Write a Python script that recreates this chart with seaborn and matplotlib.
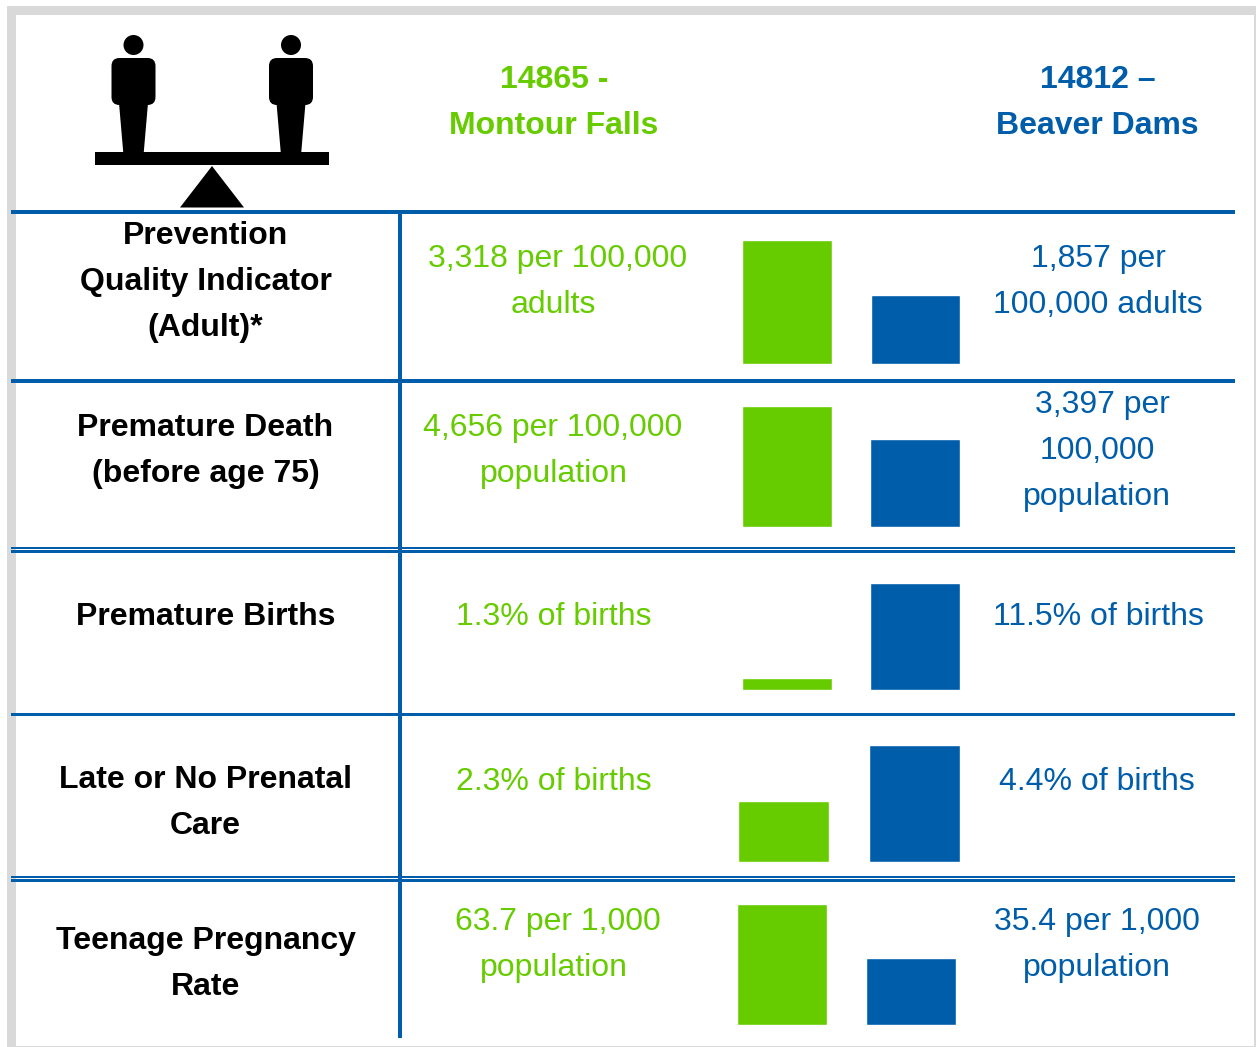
import pandas as pd
import matplotlib
matplotlib.use('Agg')  # Use a non-GUI backend
import matplotlib.pyplot as plt
from matplotlib.patches import Circle, FancyBboxPatch, Polygon, Rectangle
import seaborn as sns

GREEN = '#66CC00'
BLUE = '#005DAA'
GREY = '#D9D9D9'
W, H = 1256, 1047

areas = ['14865 - Montour Falls', '14812 - Beaver Dams']
prevention = [3318, 1857]
premature_death = [4656, 3397]
premature_births = [1.3, 11.5]
late_care = [2.3, 4.4]
teen_pregnancy = [63.7, 35.4]

row_labels = [['Prevention', 'Quality Indicator', '(Adult)*'],
              ['Premature Death', '(before age 75)'],
              ['Premature Births'],
              ['Late or No Prenatal', 'Care'],
              ['Teenage Pregnancy', 'Rate']]
green_labels = [['3,318 per 100,000', 'adults'],
                ['4,656 per 100,000', 'population'],
                ['1.3% of births'],
                ['2.3% of births'],
                ['63.7 per 1,000', 'population']]
blue_labels = [['1,857 per', '100,000 adults'],
               ['3,397 per', '100,000', 'population'],
               ['11.5% of births'],
               ['4.4% of births'],
               ['35.4 per 1,000', 'population']]

sns.set_style('white')
plt.rcParams['font.family'] = ['Liberation Sans', 'DejaVu Sans']

fig = plt.figure(figsize=(W / 100, H / 100), dpi=100)
bg = fig.add_axes([0, 0, 1, 1])
bg.set_xlim(0, W)
bg.set_ylim(H, 0)
bg.axis('off')

# grey frame round the table
bg.add_patch(Rectangle((7, 6), 9, H - 6, color=GREY, lw=0))
bg.add_patch(Rectangle((7, 6), W - 7, 9, color=GREY, lw=0))
bg.add_patch(Rectangle((1254, 6), 2, H - 6, color=GREY, lw=0))
bg.add_patch(Rectangle((7, 1045.5), W - 7, 1.5, color=GREY, lw=0))


def hline(y, thick):
    bg.add_patch(Rectangle((11, y), 1224, thick, color=BLUE, lw=0, zorder=3))


# table rules
hline(210, 3.8)
hline(379, 3.8)
hline(547, 2.3)
hline(550.4, 2.3)
hline(712.5, 3.8)
hline(876, 2.3)
hline(879.4, 2.3)
bg.add_patch(Rectangle((398, 212), 4, 826, color=BLUE, lw=0, zorder=3))


def person(cx):
    bg.add_patch(Circle((cx, 45), 10, color='black', lw=0))
    bg.add_patch(FancyBboxPatch((cx - 14, 66), 28, 31, boxstyle='round,pad=8',
                                color='black', lw=0))
    bg.add_patch(Polygon([(cx - 14.5, 103), (cx + 14.5, 103), (cx + 10.2, 153), (cx - 10.2, 153)],
                         color='black', lw=0))


# balance icon
person(133.5)
person(291)
bg.add_patch(Rectangle((95, 152), 233.5, 13, color='black', lw=0))
bg.add_patch(Polygon([(212, 166), (180, 207.5), (244, 207.5)], color='black', lw=0))


def put_lines(lines, xs, ys, color, weight='normal'):
    for line, x, y in zip(lines, xs, ys):
        bg.text(x, y + 11, line, color=color, fontsize=23, fontweight=weight,
                ha='center', va='baseline')


# column headings
put_lines(['14865 -', 'Montour Falls'], [554.5, 553.5], [77, 123], GREEN, 'bold')
put_lines(['14812 –', 'Beaver Dams'], [1097.5, 1097], [77, 123], BLUE, 'bold')

# row text
label_y = [[233, 279, 325], [425, 471], [614], [777, 823], [938, 984]]
for lines, ys in zip(row_labels, label_y):
    put_lines(lines, [205.5] * len(lines), ys, 'black', 'bold')

green_x = [[557.5, 553.5], [553, 553.5], [554], [553.5], [558, 553.5]]
green_y = [[256, 302], [425, 471], [614], [779], [919, 965]]
for lines, xs, ys in zip(green_labels, green_x, green_y):
    put_lines(lines, xs, ys, GREEN)

blue_x = [[1098, 1097.5], [1102, 1097, 1097], [1098], [1097], [1097, 1097]]
blue_y = [[256, 302], [402, 448, 494], [614], [779], [919, 965]]
for lines, xs, ys in zip(blue_labels, blue_x, blue_y):
    put_lines(lines, xs, ys, BLUE)

# small bar pair per row, each scaled to its own tallest bar
rows = [prevention, premature_death, premature_births, late_care, teen_pregnancy]
bar_boxes = [(786.8, 915.3, 240.2, 364, 89.5),
             (786.8, 914.8, 406.2, 527, 89.5),
             (786.8, 914.8, 583.2, 690, 89.5),
             (783.8, 914.2, 745.2, 862, 91),
             (781.8, 911.3, 904.2, 1025, 90)]
for values, (x0, x1, top, base, bar_w) in zip(rows, bar_boxes):
    step = x1 - x0
    ax = fig.add_axes([(x0 - step / 2) / W, 1 - base / H, 2 * step / W, (base - top) / H])
    df = pd.DataFrame({'area': areas, 'value': values})
    sns.barplot(data=df, x='area', y='value', hue='area', palette=[GREEN, BLUE],
                width=bar_w / step, saturation=1, legend=False, ax=ax)
    ax.set_xlim(-0.5, 1.5)
    ax.set_ylim(0, max(values))
    ax.axis('off')
    ax.patch.set_alpha(0)

fig.savefig('out.png', dpi=100)
